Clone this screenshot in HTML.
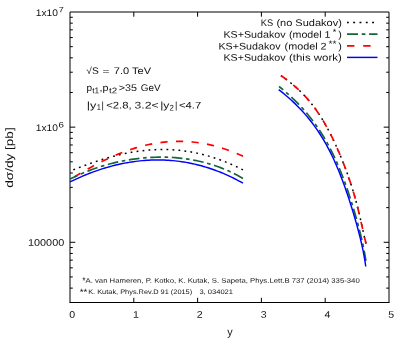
<!DOCTYPE html>
<html><head><meta charset="utf-8"><title>plot</title>
<style>html,body{margin:0;padding:0;background:#fff;overflow:hidden}body{width:407px;height:339px;font-family:"Liberation Sans",sans-serif}svg{will-change:transform}</style></head>
<body>
<svg width="407" height="339" viewBox="0 0 407 339" style="display:block">
<rect width="407" height="339" fill="#fff"/>
<g stroke="#000" stroke-width="1" fill="none">
<path d="M70.0,302.5 L70.0,12.0 L389.0,12.0 L389.0,302.5"/>
<path d="M69.5,302.5 L389.5,302.5"/>
<path d="M133.80,302.5 v-4.7 M133.80,12.0 v4.7 M197.60,302.5 v-4.7 M197.60,12.0 v4.7 M261.40,302.5 v-4.7 M261.40,12.0 v4.7 M325.20,302.5 v-4.7 M325.20,12.0 v4.7 M70.0,288.11 h2.8 M389.0,288.11 h-2.8 M70.0,276.95 h2.8 M389.0,276.95 h-2.8 M70.0,267.84 h2.8 M389.0,267.84 h-2.8 M70.0,260.13 h2.8 M389.0,260.13 h-2.8 M70.0,253.45 h2.8 M389.0,253.45 h-2.8 M70.0,247.56 h2.8 M389.0,247.56 h-2.8 M70.0,242.29 h5.3 M389.0,242.29 h-5.3 M70.0,207.63 h2.8 M389.0,207.63 h-2.8 M70.0,187.35 h2.8 M389.0,187.35 h-2.8 M70.0,172.97 h2.8 M389.0,172.97 h-2.8 M70.0,161.81 h2.8 M389.0,161.81 h-2.8 M70.0,152.69 h2.8 M389.0,152.69 h-2.8 M70.0,144.98 h2.8 M389.0,144.98 h-2.8 M70.0,138.31 h2.8 M389.0,138.31 h-2.8 M70.0,132.42 h2.8 M389.0,132.42 h-2.8 M70.0,127.15 h5.3 M389.0,127.15 h-5.3 M70.0,92.48 h2.8 M389.0,92.48 h-2.8 M70.0,72.21 h2.8 M389.0,72.21 h-2.8 M70.0,57.82 h2.8 M389.0,57.82 h-2.8 M70.0,46.66 h2.8 M389.0,46.66 h-2.8 M70.0,37.55 h2.8 M389.0,37.55 h-2.8 M70.0,29.84 h2.8 M389.0,29.84 h-2.8 M70.0,23.16 h2.8 M389.0,23.16 h-2.8 M70.0,17.27 h2.8 M389.0,17.27 h-2.8 "/>
</g>
<path d="M70.00,171.13 L72.19,170.25 L74.38,169.38 L76.57,168.52 L78.76,167.67 L80.95,166.83 L83.14,166.01 L85.33,165.20 L87.52,164.40 L89.71,163.62 L91.90,162.86 L94.09,162.11 L96.28,161.38 L98.47,160.66 L100.66,159.96 L102.85,159.28 L105.04,158.62 L107.23,157.98 L109.42,157.36 L111.61,156.76 L113.80,156.17 L115.99,155.61 L118.18,155.08 L120.37,154.56 L122.56,154.07 L124.75,153.60 L126.94,153.15 L129.13,152.73 L131.32,152.33 L133.51,151.95 L135.70,151.60 L137.89,151.28 L140.08,150.98 L142.27,150.71 L144.46,150.46 L146.65,150.25 L148.84,150.05 L151.03,149.89 L153.22,149.75 L155.41,149.64 L157.59,149.56 L159.78,149.51 L161.97,149.48 L164.16,149.49 L166.35,149.52 L168.54,149.59 L170.73,149.68 L172.92,149.80 L175.11,149.95 L177.30,150.13 L179.49,150.35 L181.68,150.59 L183.87,150.86 L186.06,151.17 L188.25,151.50 L190.44,151.86 L192.63,152.26 L194.82,152.69 L197.01,153.14 L199.20,153.63 L201.39,154.15 L203.58,154.70 L205.77,155.28 L207.96,155.90 L210.15,156.54 L212.34,157.21 L214.53,157.92 L216.72,158.66 L218.91,159.43 L221.10,160.22 L223.29,161.05 L225.48,161.91 L227.67,162.81 L229.86,163.73 L232.05,164.68 L234.24,165.66 L236.43,166.68 L238.62,167.72 L240.81,168.79 L243.00,169.89" fill="none" stroke="#000" stroke-width="1.5" stroke-dasharray="1.8 4.2" stroke-dashoffset="2.4"/>
<path d="M70.00,179.72 L72.19,178.34 L74.38,176.97 L76.57,175.63 L78.76,174.30 L80.95,172.99 L83.14,171.70 L85.33,170.43 L87.52,169.18 L89.71,167.95 L91.90,166.75 L94.09,165.56 L96.28,164.40 L98.47,163.26 L100.66,162.14 L102.85,161.05 L105.04,159.99 L107.23,158.94 L109.42,157.93 L111.61,156.94 L113.80,155.98 L115.99,155.04 L118.18,154.14 L120.37,153.26 L122.56,152.41 L124.75,151.58 L126.94,150.79 L129.13,150.03 L131.32,149.29 L133.51,148.59 L135.70,147.92 L137.89,147.28 L140.08,146.67 L142.27,146.09 L144.46,145.54 L146.65,145.03 L148.84,144.54 L151.03,144.09 L153.22,143.68 L155.41,143.29 L157.59,142.94 L159.78,142.63 L161.97,142.34 L164.16,142.09 L166.35,141.88 L168.54,141.70 L170.73,141.55 L172.92,141.44 L175.11,141.36 L177.30,141.32 L179.49,141.31 L181.68,141.34 L183.87,141.40 L186.06,141.49 L188.25,141.63 L190.44,141.79 L192.63,141.99 L194.82,142.23 L197.01,142.50 L199.20,142.81 L201.39,143.15 L203.58,143.53 L205.77,143.94 L207.96,144.38 L210.15,144.87 L212.34,145.38 L214.53,145.93 L216.72,146.52 L218.91,147.13 L221.10,147.79 L223.29,148.47 L225.48,149.19 L227.67,149.95 L229.86,150.74 L232.05,151.56 L234.24,152.41 L236.43,153.30 L238.62,154.22 L240.81,155.17 L243.00,156.15" fill="none" stroke="#ff0000" stroke-width="1.7" stroke-dasharray="7.2 8.39" stroke-dashoffset="10.53"/>
<path d="M70.00,179.05 L72.19,177.96 L74.38,176.90 L76.57,175.88 L78.76,174.89 L80.95,173.93 L83.14,173.00 L85.33,172.10 L87.52,171.23 L89.71,170.39 L91.90,169.57 L94.09,168.79 L96.28,168.03 L98.47,167.30 L100.66,166.60 L102.85,165.92 L105.04,165.27 L107.23,164.65 L109.42,164.05 L111.61,163.48 L113.80,162.94 L115.99,162.42 L118.18,161.92 L120.37,161.45 L122.56,161.00 L124.75,160.58 L126.94,160.18 L129.13,159.81 L131.32,159.46 L133.51,159.14 L135.70,158.84 L137.89,158.56 L140.08,158.31 L142.27,158.08 L144.46,157.88 L146.65,157.70 L148.84,157.55 L151.03,157.42 L153.22,157.31 L155.41,157.23 L157.59,157.18 L159.78,157.15 L161.97,157.14 L164.16,157.16 L166.35,157.21 L168.54,157.28 L170.73,157.38 L172.92,157.51 L175.11,157.66 L177.30,157.84 L179.49,158.05 L181.68,158.29 L183.87,158.55 L186.06,158.84 L188.25,159.16 L190.44,159.52 L192.63,159.90 L194.82,160.31 L197.01,160.76 L199.20,161.23 L201.39,161.74 L203.58,162.28 L205.77,162.86 L207.96,163.47 L210.15,164.11 L212.34,164.79 L214.53,165.50 L216.72,166.25 L218.91,167.04 L221.10,167.87 L223.29,168.74 L225.48,169.64 L227.67,170.59 L229.86,171.57 L232.05,172.60 L234.24,173.68 L236.43,174.79 L238.62,175.95 L240.81,177.16 L243.00,178.41" fill="none" stroke="#15673b" stroke-width="1.7" stroke-dasharray="10.7 3.61 3.61 3.61" stroke-dashoffset="2.44"/>
<path d="M70.00,181.92 L72.19,180.86 L74.38,179.81 L76.57,178.80 L78.76,177.81 L80.95,176.85 L83.14,175.91 L85.33,175.00 L87.52,174.12 L89.71,173.26 L91.90,172.43 L94.09,171.62 L96.28,170.84 L98.47,170.09 L100.66,169.36 L102.85,168.66 L105.04,167.99 L107.23,167.34 L109.42,166.72 L111.61,166.13 L113.80,165.56 L115.99,165.02 L118.18,164.51 L120.37,164.02 L122.56,163.56 L124.75,163.13 L126.94,162.73 L129.13,162.35 L131.32,162.00 L133.51,161.67 L135.70,161.38 L137.89,161.11 L140.08,160.87 L142.27,160.65 L144.46,160.47 L146.65,160.31 L148.84,160.18 L151.03,160.08 L153.22,160.01 L155.41,159.96 L157.59,159.94 L159.78,159.96 L161.97,160.00 L164.16,160.07 L166.35,160.16 L168.54,160.29 L170.73,160.45 L172.92,160.64 L175.11,160.85 L177.30,161.10 L179.49,161.37 L181.68,161.68 L183.87,162.02 L186.06,162.38 L188.25,162.78 L190.44,163.21 L192.63,163.67 L194.82,164.16 L197.01,164.68 L199.20,165.23 L201.39,165.81 L203.58,166.43 L205.77,167.08 L207.96,167.76 L210.15,168.47 L212.34,169.22 L214.53,169.99 L216.72,170.81 L218.91,171.65 L221.10,172.53 L223.29,173.44 L225.48,174.39 L227.67,175.37 L229.86,176.38 L232.05,177.43 L234.24,178.52 L236.43,179.64 L238.62,180.79 L240.81,181.98 L243.00,183.21" fill="none" stroke="#0000ff" stroke-width="1.45"/>
<path d="M280.93,75.60 L283.38,77.30 L285.73,79.00 L287.99,80.69 L290.16,82.39 L292.24,84.09 L294.25,85.79 L296.18,87.49 L298.04,89.18 L299.83,90.88 L301.55,92.58 L303.22,94.28 L304.82,95.98 L306.37,97.67 L307.86,99.37 L309.31,101.07 L310.70,102.77 L312.05,104.47 L313.36,106.16 L314.63,107.86 L315.86,109.56 L317.06,111.26 L318.22,112.96 L319.35,114.65 L320.45,116.35 L321.52,118.05 L322.56,119.75 L323.58,121.45 L324.57,123.14 L325.54,124.84 L326.49,126.54 L327.42,128.24 L328.33,129.94 L329.23,131.63 L330.10,133.33 L330.96,135.03 L331.81,136.73 L332.64,138.43 L333.45,140.12 L334.25,141.82 L335.05,143.52 L335.82,145.22 L336.59,146.92 L337.34,148.61 L338.09,150.31 L338.82,152.01 L339.55,153.71 L340.26,155.41 L340.96,157.10 L341.66,158.80 L342.34,160.50 L343.02,162.20 L343.68,163.89 L344.34,165.59 L344.99,167.29 L345.63,168.99 L346.26,170.69 L346.88,172.38 L347.49,174.08 L348.09,175.78 L348.69,177.48 L349.27,179.18 L349.85,180.87 L350.41,182.57 L350.97,184.27 L351.51,185.97 L352.05,187.67 L352.58,189.36 L353.10,191.06 L353.61,192.76 L354.11,194.46 L354.60,196.16 L355.08,197.85 L355.56,199.55 L356.02,201.25 L356.47,202.95 L356.92,204.65 L357.36,206.34 L357.79,208.04 L358.21,209.74 L358.63,211.44 L359.04,213.14 L359.44,214.83 L359.84,216.53 L360.23,218.23 L360.61,219.93 L361.00,221.63 L361.38,223.32 L361.75,225.02 L362.13,226.72 L362.50,228.42 L362.88,230.12 L363.25,231.81 L363.63,233.51 L364.02,235.21 L364.40,236.91 L364.80,238.61 L365.20,240.30 L365.61,242.00 L366.04,243.70" fill="none" stroke="#000" stroke-width="1.5" stroke-dasharray="1.8 4.18" stroke-dashoffset="0.2"/>
<path d="M280.93,75.60 L283.38,77.30 L285.73,79.00 L287.99,80.69 L290.16,82.39 L292.24,84.09 L294.25,85.79 L296.18,87.49 L298.04,89.18 L299.83,90.88 L301.55,92.58 L303.22,94.28 L304.82,95.98 L306.37,97.67 L307.86,99.37 L309.31,101.07 L310.70,102.77 L312.05,104.47 L313.36,106.16 L314.63,107.86 L315.86,109.56 L317.06,111.26 L318.22,112.96 L319.35,114.65 L320.45,116.35 L321.52,118.05 L322.56,119.75 L323.58,121.45 L324.57,123.14 L325.54,124.84 L326.49,126.54 L327.42,128.24 L328.33,129.94 L329.23,131.63 L330.10,133.33 L330.96,135.03 L331.81,136.73 L332.64,138.43 L333.45,140.12 L334.25,141.82 L335.05,143.52 L335.82,145.22 L336.59,146.92 L337.34,148.61 L338.09,150.31 L338.82,152.01 L339.55,153.71 L340.26,155.41 L340.96,157.10 L341.66,158.80 L342.34,160.50 L343.02,162.20 L343.68,163.89 L344.34,165.59 L344.99,167.29 L345.63,168.99 L346.26,170.69 L346.88,172.38 L347.49,174.08 L348.09,175.78 L348.69,177.48 L349.27,179.18 L349.85,180.87 L350.41,182.57 L350.97,184.27 L351.51,185.97 L352.05,187.67 L352.58,189.36 L353.10,191.06 L353.61,192.76 L354.11,194.46 L354.60,196.16 L355.08,197.85 L355.56,199.55 L356.02,201.25 L356.47,202.95 L356.92,204.65 L357.36,206.34 L357.79,208.04 L358.21,209.74 L358.63,211.44 L359.04,213.14 L359.44,214.83 L359.84,216.53 L360.23,218.23 L360.61,219.93 L361.00,221.63 L361.38,223.32 L361.75,225.02 L362.13,226.72 L362.50,228.42 L362.88,230.12 L363.25,231.81 L363.63,233.51 L364.02,235.21 L364.40,236.91 L364.80,238.61 L365.20,240.30 L365.61,242.00 L366.04,243.70" fill="none" stroke="#ff0000" stroke-width="1.7" stroke-dasharray="7.2 8.33" stroke-dashoffset="0"/>
<path d="M279.07,86.50 L281.25,88.26 L283.38,90.02 L285.45,91.78 L287.47,93.54 L289.44,95.30 L291.36,97.06 L293.22,98.82 L295.04,100.58 L296.81,102.35 L298.53,104.11 L300.21,105.87 L301.84,107.63 L303.44,109.39 L304.99,111.15 L306.50,112.91 L307.97,114.67 L309.41,116.43 L310.80,118.19 L312.17,119.95 L313.49,121.71 L314.79,123.47 L316.05,125.23 L317.28,126.99 L318.48,128.75 L319.66,130.52 L320.80,132.28 L321.91,134.04 L323.00,135.80 L324.07,137.56 L325.11,139.32 L326.12,141.08 L327.11,142.84 L328.08,144.60 L329.03,146.36 L329.96,148.12 L330.86,149.88 L331.75,151.64 L332.62,153.40 L333.47,155.16 L334.31,156.92 L335.12,158.68 L335.93,160.45 L336.71,162.21 L337.48,163.97 L338.24,165.73 L338.99,167.49 L339.72,169.25 L340.44,171.01 L341.14,172.77 L341.84,174.53 L342.52,176.29 L343.19,178.05 L343.86,179.81 L344.51,181.57 L345.15,183.33 L345.79,185.09 L346.41,186.85 L347.03,188.62 L347.64,190.38 L348.24,192.14 L348.83,193.90 L349.41,195.66 L349.99,197.42 L350.56,199.18 L351.12,200.94 L351.68,202.70 L352.23,204.46 L352.77,206.22 L353.31,207.98 L353.84,209.74 L354.36,211.50 L354.87,213.26 L355.38,215.02 L355.89,216.78 L356.38,218.55 L356.88,220.31 L357.36,222.07 L357.84,223.83 L358.30,225.59 L358.77,227.35 L359.22,229.11 L359.67,230.87 L360.11,232.63 L360.54,234.39 L360.97,236.15 L361.38,237.91 L361.79,239.67 L362.19,241.43 L362.58,243.19 L362.96,244.95 L363.33,246.72 L363.69,248.48 L364.04,250.24 L364.38,252.00 L364.70,253.76 L365.01,255.52 L365.32,257.28 L365.60,259.04 L365.88,260.80" fill="none" stroke="#15673b" stroke-width="1.7" stroke-dasharray="10.7 3.63 3.63 3.62" stroke-dashoffset="5.3"/>
<path d="M278.69,89.60 L280.97,91.39 L283.18,93.17 L285.34,94.96 L287.43,96.75 L289.46,98.53 L291.44,100.32 L293.36,102.11 L295.23,103.89 L297.04,105.68 L298.80,107.47 L300.52,109.26 L302.18,111.04 L303.80,112.83 L305.38,114.62 L306.91,116.40 L308.39,118.19 L309.84,119.98 L311.25,121.76 L312.62,123.55 L313.95,125.34 L315.24,127.12 L316.50,128.91 L317.73,130.70 L318.92,132.48 L320.09,134.27 L321.22,136.06 L322.33,137.85 L323.40,139.63 L324.45,141.42 L325.48,143.21 L326.48,144.99 L327.45,146.78 L328.41,148.57 L329.34,150.35 L330.25,152.14 L331.14,153.93 L332.01,155.71 L332.86,157.50 L333.69,159.29 L334.51,161.07 L335.31,162.86 L336.10,164.65 L336.87,166.44 L337.62,168.22 L338.37,170.01 L339.10,171.80 L339.81,173.58 L340.52,175.37 L341.21,177.16 L341.90,178.94 L342.57,180.73 L343.23,182.52 L343.89,184.30 L344.53,186.09 L345.17,187.88 L345.79,189.66 L346.41,191.45 L347.03,193.24 L347.63,195.03 L348.23,196.81 L348.82,198.60 L349.40,200.39 L349.98,202.17 L350.55,203.96 L351.11,205.75 L351.67,207.53 L352.22,209.32 L352.77,211.11 L353.31,212.89 L353.84,214.68 L354.37,216.47 L354.89,218.25 L355.41,220.04 L355.92,221.83 L356.42,223.62 L356.92,225.40 L357.41,227.19 L357.89,228.98 L358.36,230.76 L358.83,232.55 L359.29,234.34 L359.74,236.12 L360.18,237.91 L360.61,239.70 L361.04,241.48 L361.45,243.27 L361.86,245.06 L362.25,246.84 L362.63,248.63 L363.01,250.42 L363.36,252.21 L363.71,253.99 L364.04,255.78 L364.36,257.57 L364.67,259.35 L364.96,261.14 L365.23,262.93 L365.48,264.71 L365.72,266.50" fill="none" stroke="#0000ff" stroke-width="1.45"/>
<path d="M347,22.6 H377.5" stroke="#000" stroke-width="1.5" stroke-dasharray="1.9 4.4" stroke-dashoffset="0.1"/>
<path d="M347,34.2 H377.5" stroke="#15673b" stroke-width="1.7" stroke-dasharray="11 3.7 3.7 3.7"/>
<path d="M347,45.8 H377.5" stroke="#ff0000" stroke-width="1.7" stroke-dasharray="7.4 8.8"/>
<path d="M347,57.4 H377.5" stroke="#0000ff" stroke-width="1.45"/>
<g font-family="Liberation Sans, sans-serif" fill="#111" style="text-rendering:geometricPrecision">
<text x="35.8" y="16.0" transform="rotate(0.03 35.8 16.0)" font-size="9.6" text-anchor="start" textLength="22.2" lengthAdjust="spacingAndGlyphs">1x10</text>
<text x="58.8" y="12.3" transform="rotate(0.03 58.8 12.3)" font-size="7.8" text-anchor="start" textLength="5.0" lengthAdjust="spacingAndGlyphs">7</text>
<text x="35.8" y="131.0" transform="rotate(0.03 35.8 131.0)" font-size="9.6" text-anchor="start" textLength="22.2" lengthAdjust="spacingAndGlyphs">1x10</text>
<text x="58.4" y="127.5" transform="rotate(0.03 58.4 127.5)" font-size="7.8" text-anchor="start" textLength="5.4" lengthAdjust="spacingAndGlyphs">6</text>
<text x="28.0" y="245.7" transform="rotate(0.03 28.0 245.7)" font-size="9.6" text-anchor="start" textLength="36.2" lengthAdjust="spacingAndGlyphs">100000</text>
<text x="72.2" y="317.7" transform="rotate(0.03 72.2 317.7)" font-size="9.6" text-anchor="middle" textLength="5.9" lengthAdjust="spacingAndGlyphs">0</text>
<text x="136.0" y="317.7" transform="rotate(0.03 136.0 317.7)" font-size="9.6" text-anchor="middle" textLength="5.9" lengthAdjust="spacingAndGlyphs">1</text>
<text x="199.8" y="317.7" transform="rotate(0.03 199.8 317.7)" font-size="9.6" text-anchor="middle" textLength="5.9" lengthAdjust="spacingAndGlyphs">2</text>
<text x="263.6" y="317.7" transform="rotate(0.03 263.6 317.7)" font-size="9.6" text-anchor="middle" textLength="5.9" lengthAdjust="spacingAndGlyphs">3</text>
<text x="327.4" y="317.7" transform="rotate(0.03 327.4 317.7)" font-size="9.6" text-anchor="middle" textLength="5.9" lengthAdjust="spacingAndGlyphs">4</text>
<text x="391.2" y="317.7" transform="rotate(0.03 391.2 317.7)" font-size="9.6" text-anchor="middle" textLength="5.9" lengthAdjust="spacingAndGlyphs">5</text>
<text x="229.9" y="335.6" transform="rotate(0.03 229.9 335.6)" font-size="10.8" text-anchor="middle">y</text>
<text transform="translate(13.4,187.8) rotate(-90)" font-size="10.8" textLength="60.5" lengthAdjust="spacingAndGlyphs">dσ/dy [pb]</text>
<text x="260.7" y="25.9" transform="rotate(0.03 260.7 25.9)" font-size="9.6" text-anchor="start" textLength="12.4" lengthAdjust="spacingAndGlyphs">KS</text>
<text x="276.4" y="25.9" transform="rotate(0.03 276.4 25.9)" font-size="9.6" text-anchor="start" textLength="65.4" lengthAdjust="spacingAndGlyphs">(no Sudakov)</text>
<text x="223.4" y="37.7" transform="rotate(0.03 223.4 37.7)" font-size="9.6" text-anchor="start" textLength="62.2" lengthAdjust="spacingAndGlyphs">KS+Sudakov</text>
<text x="289.0" y="37.7" transform="rotate(0.03 289.0 37.7)" font-size="9.6" text-anchor="start" textLength="41.4" lengthAdjust="spacingAndGlyphs">(model 1</text>
<text x="332.8" y="35.1" transform="rotate(0.03 332.8 35.1)" font-size="9" text-anchor="start">*</text>
<text x="338.2" y="37.7" transform="rotate(0.03 338.2 37.7)" font-size="9.6" text-anchor="start" textLength="3.6" lengthAdjust="spacingAndGlyphs">)</text>
<text x="218.4" y="49.4" transform="rotate(0.03 218.4 49.4)" font-size="9.6" text-anchor="start" textLength="62.2" lengthAdjust="spacingAndGlyphs">KS+Sudakov</text>
<text x="284.6" y="49.4" transform="rotate(0.03 284.6 49.4)" font-size="9.6" text-anchor="start" textLength="42.0" lengthAdjust="spacingAndGlyphs">(model 2</text>
<text x="328.4" y="46.8" transform="rotate(0.03 328.4 46.8)" font-size="9" text-anchor="start" textLength="8.0" lengthAdjust="spacingAndGlyphs">**</text>
<text x="338.2" y="49.4" transform="rotate(0.03 338.2 49.4)" font-size="9.6" text-anchor="start" textLength="3.6" lengthAdjust="spacingAndGlyphs">)</text>
<text x="223.4" y="60.8" transform="rotate(0.03 223.4 60.8)" font-size="9.6" text-anchor="start" textLength="62.2" lengthAdjust="spacingAndGlyphs">KS+Sudakov</text>
<text x="289.0" y="60.8" transform="rotate(0.03 289.0 60.8)" font-size="9.6" text-anchor="start" textLength="52.8" lengthAdjust="spacingAndGlyphs">(this work)</text>
<text x="86.3" y="74.0" transform="rotate(0.03 86.3 74.0)" font-size="9.6" text-anchor="start" textLength="12.4" lengthAdjust="spacingAndGlyphs">√S</text>
<text x="102.6" y="73.5" transform="rotate(0.03 102.6 73.5)" font-size="6.6" text-anchor="start" textLength="7.0" lengthAdjust="spacingAndGlyphs">=</text>
<text x="113.8" y="74.0" transform="rotate(0.03 113.8 74.0)" font-size="9.6" text-anchor="start" textLength="37.2" lengthAdjust="spacingAndGlyphs">7.0 TeV</text>
<text x="86.4" y="90.9" transform="rotate(0.03 86.4 90.9)" font-size="9.6" text-anchor="start" textLength="5.6" lengthAdjust="spacingAndGlyphs">p</text>
<text x="92.2" y="93.3" transform="rotate(0.03 92.2 93.3)" font-size="8.2" text-anchor="start" textLength="7.0" lengthAdjust="spacingAndGlyphs">t1</text>
<text x="99.6" y="90.9" transform="rotate(0.03 99.6 90.9)" font-size="9.6" text-anchor="start" textLength="9.0" lengthAdjust="spacingAndGlyphs">,p</text>
<text x="109.0" y="93.3" transform="rotate(0.03 109.0 93.3)" font-size="8.2" text-anchor="start" textLength="8.2" lengthAdjust="spacingAndGlyphs">t2</text>
<text x="118.8" y="90.9" transform="rotate(0.03 118.8 90.9)" font-size="9.6" text-anchor="start" textLength="18.2" lengthAdjust="spacingAndGlyphs">&gt;35</text>
<text x="140.8" y="90.9" transform="rotate(0.03 140.8 90.9)" font-size="9.6" text-anchor="start" textLength="19.8" lengthAdjust="spacingAndGlyphs">GeV</text>
<text x="86.8" y="108.4" transform="rotate(0.03 86.8 108.4)" font-size="9.6" text-anchor="start" textLength="9.6" lengthAdjust="spacingAndGlyphs">|y</text>
<text x="96.8" y="110.4" transform="rotate(0.03 96.8 110.4)" font-size="8.2" text-anchor="start" textLength="4.2" lengthAdjust="spacingAndGlyphs">1</text>
<text x="101.6" y="108.4" transform="rotate(0.03 101.6 108.4)" font-size="9.6" text-anchor="start" textLength="2.4" lengthAdjust="spacingAndGlyphs">|</text>
<text x="106.2" y="108.4" transform="rotate(0.03 106.2 108.4)" font-size="9.6" text-anchor="start" textLength="25.4" lengthAdjust="spacingAndGlyphs">&lt;2.8,</text>
<text x="134.6" y="108.4" transform="rotate(0.03 134.6 108.4)" font-size="9.6" text-anchor="start" textLength="24.0" lengthAdjust="spacingAndGlyphs">3.2&lt;</text>
<text x="160.2" y="108.4" transform="rotate(0.03 160.2 108.4)" font-size="9.6" text-anchor="start" textLength="9.2" lengthAdjust="spacingAndGlyphs">|y</text>
<text x="169.4" y="110.4" transform="rotate(0.03 169.4 110.4)" font-size="8.2" text-anchor="start" textLength="4.4" lengthAdjust="spacingAndGlyphs">2</text>
<text x="174.9" y="108.4" transform="rotate(0.03 174.9 108.4)" font-size="9.6" text-anchor="start" textLength="2.4" lengthAdjust="spacingAndGlyphs">|</text>
<text x="179.0" y="108.4" transform="rotate(0.03 179.0 108.4)" font-size="9.6" text-anchor="start" textLength="22.3" lengthAdjust="spacingAndGlyphs">&lt;4.7</text>
<text x="82.3" y="283.6" transform="rotate(0.03 82.3 283.6)" font-size="9" text-anchor="start" textLength="3.4" lengthAdjust="spacingAndGlyphs">*</text>
<text x="85.5" y="282.7" transform="rotate(0.03 85.5 282.7)" font-size="6.6" text-anchor="start" textLength="274.2" lengthAdjust="spacingAndGlyphs">A. van Hameren, P. Kotko, K. Kutak, S. Sapeta, Phys.Lett.B 737 (2014) 335-340</text>
<text x="79.8" y="294.9" transform="rotate(0.03 79.8 294.9)" font-size="9" text-anchor="start" textLength="7.6" lengthAdjust="spacingAndGlyphs">**</text>
<text x="88.2" y="294.0" transform="rotate(0.03 88.2 294.0)" font-size="6.6" text-anchor="start" textLength="104.0" lengthAdjust="spacingAndGlyphs">K. Kutak, Phys.Rev.D 91 (2015)</text>
<text x="199.4" y="294.0" transform="rotate(0.03 199.4 294.0)" font-size="6.6" text-anchor="start" textLength="33.6" lengthAdjust="spacingAndGlyphs">3, 034021</text>
</g>
</svg>
</body></html>
